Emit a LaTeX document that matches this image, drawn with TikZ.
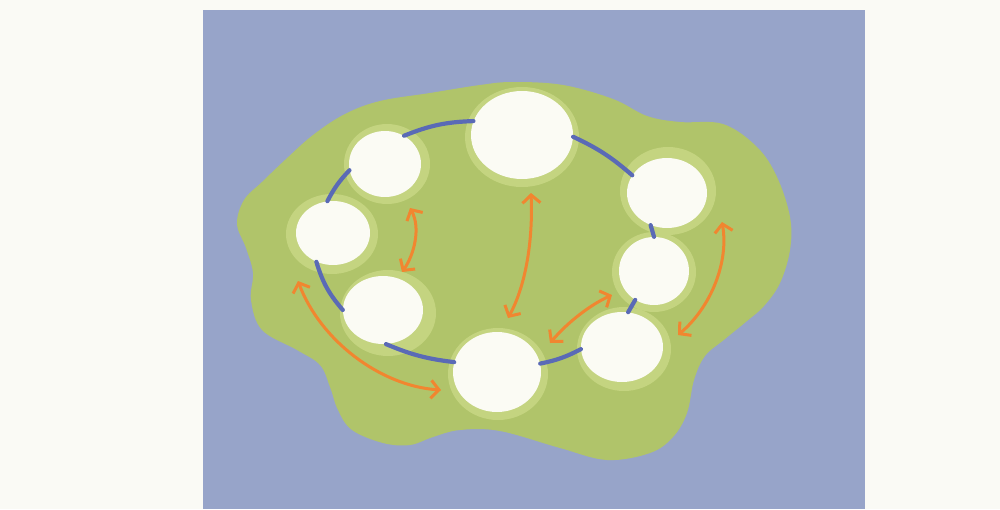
\documentclass[tikz,border=0pt]{standalone}
\usetikzlibrary{shapes.geometric,arrows.meta}
\definecolor{paper}{RGB}{250,250,245}
\definecolor{bgblue}{RGB}{151,164,201}
\definecolor{blob}{RGB}{176,196,106}
\definecolor{halo}{RGB}{196,212,128}
\definecolor{cell}{RGB}{251,251,244}
\definecolor{link}{RGB}{90,106,182}
\definecolor{arr}{RGB}{241,134,48}
\tikzset{
  cellnode/.style={ellipse,fill=cell,inner sep=0pt,draw=none},
  halonode/.style={ellipse,fill=halo,inner sep=0pt,draw=none},
  linkline/.style={draw=link,line width=4.2pt,line cap=round},
  swap/.style={draw=arr,line width=3pt,line cap=round,
    {Straight Barb[length=8pt,width=18pt,line width=3pt]}-{Straight Barb[length=8pt,width=18pt,line width=3pt]}}
}
\begin{document}
\begin{tikzpicture}[x=1pt,y=-1pt]
\useasboundingbox (0,0) rectangle (1000,509);
\fill[paper] (0,0) rectangle (1000,509);
\fill[bgblue] (203,10) rectangle (865,509);
% green blob
\fill[blob] plot[smooth cycle,tension=0.6] coordinates {
 (297,350) (320,365) (330,387) (338,410) (352,430) (383,443) (410,445)
 (433,437) (460,430) (500,431) (560,448) (607,460) (650,453) (673,437)
 (687,413) (694,380) (705,356) (725,339) (747,321) (764,306) (780,283)
 (790,250) (790,217) (777,177) (757,147) (723,124) (680,122) (647,116)
 (613,99) (563,85) (513,82) (480,85) (430,93) (380,101) (345,114)
 (313,135) (285,160) (262,182) (244,200) (237,224) (246,248) (253,273)
 (251,300) (262,330) };
% halos
\node[halonode,minimum width=86pt,minimum height=80pt] (h1) at (387,164) {};
\node[halonode,minimum width=92pt,minimum height=80pt] (h2) at (332,234) {};
\node[halonode,minimum width=96pt,minimum height=86pt] (h3) at (388,313) {};
\node[halonode,minimum width=114pt,minimum height=100pt] (h4) at (522,137) {};
\node[halonode,minimum width=100pt,minimum height=92pt] (h5) at (498,374) {};
\node[halonode,minimum width=96pt,minimum height=88pt] (h6) at (668,191) {};
\node[halonode,minimum width=84pt,minimum height=80pt] (h7) at (654,272) {};
\node[halonode,minimum width=94pt,minimum height=84pt] (h8) at (624,349) {};
% cells
\node[cellnode,minimum width=72pt,minimum height=66pt] (c1) at (385,164) {};
\node[cellnode,minimum width=74pt,minimum height=64pt] (c2) at (333,233) {};
\node[cellnode,minimum width=80pt,minimum height=68pt] (c3) at (383,310) {};
\node[cellnode,minimum width=102pt,minimum height=88pt] (c4) at (522,135) {};
\node[cellnode,minimum width=88pt,minimum height=80pt] (c5) at (497,372) {};
\node[cellnode,minimum width=80pt,minimum height=70pt] (c6) at (667,193) {};
\node[cellnode,minimum width=70pt,minimum height=68pt] (c7) at (654,271) {};
\node[cellnode,minimum width=82pt,minimum height=70pt] (c8) at (622,347) {};
% ring links
\draw[linkline] (c1.56) to[bend left=10] (c4.164);
\draw[linkline] (c4.358) to[bend left=8] (c6.153);
\draw[linkline] (c6.243) -- (c7.90);
\draw[linkline] (c7.237) -- (c8.80);
\draw[linkline] (c8.183) to[bend left=8] (c5.11);
\draw[linkline] (c5.167) to[bend left=8] (c3.275);
\draw[linkline] (c3.180) to[bend left=12] (c2.240);
\draw[linkline] (c2.100) to[bend left=8] (c1.190);
% swap arrows
\coordinate (a1) at (410,208); \coordinate (a2) at (402,272);
\coordinate (b1) at (531,193); \coordinate (b2) at (508,318);
\coordinate (d1) at (550,343); \coordinate (d2) at (612,295);
\coordinate (e1) at (722,222); \coordinate (e2) at (678,335);
\coordinate (f1) at (298,281); \coordinate (f2) at (441,390);
\draw[swap] (a1) .. controls (421,228) and (414,255) .. (a2);
\draw[swap] (b1) .. controls (533,240) and (526,285) .. (b2);
\draw[swap] (d1) .. controls (568,322) and (590,305) .. (d2);
\draw[swap] (e1) .. controls (729,262) and (711,307) .. (e2);
\draw[swap] (f1) .. controls (320,340) and (380,386) .. (f2);
\end{tikzpicture}
\end{document}
